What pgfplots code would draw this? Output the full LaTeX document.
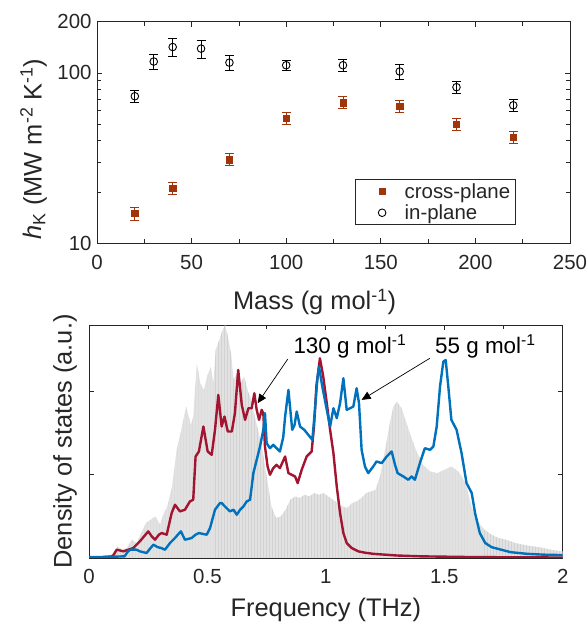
\documentclass[border=0pt]{standalone}
\usepackage{fontspec}
\setmainfont{Liberation Sans}
\usepackage{pgfplots}
\pgfplotsset{compat=1.18}
\usetikzlibrary{arrows.meta,patterns}
\definecolor{axgray}{RGB}{38,38,38}
\definecolor{brn}{RGB}{162,52,12}
\definecolor{dred}{RGB}{162,20,47}
\definecolor{mblue}{RGB}{0,114,189}
\definecolor{dosgray}{RGB}{226,226,226}
\definecolor{dosstripe}{RGB}{210,210,210}
\newcommand{\tickfont}{\fontsize{20.5}{24}\selectfont}
\newcommand{\labfont}{\fontsize{25.5}{30}\selectfont}
\pgfplotsset{
  matlab/.style={
    scale only axis, anchor=south west,
    tick align=inside, major tick length=5bp, minor tick length=4bp,
    axis line style={axgray, line width=0.8bp},
    every tick/.style={axgray, line width=0.8bp},
    tick label style={font=\tickfont, text=axgray},
    /pgf/number format/assume math mode=true,
    xticklabel style={yshift=-8bp},
    yticklabel style={xshift=-2bp},
    label style={font=\labfont, text=axgray},
  }
}
\pgfplotstableread{
f v
0 0
0.05 0.005
0.08 0.02
0.10 0.05
0.12 0.14
0.14 0.10
0.16 0.12
0.18 0.22
0.20 0.18
0.22 0.30
0.24 0.42
0.26 0.46
0.28 0.50
0.30 0.40
0.31 0.50
0.33 0.62
0.35 0.85
0.37 1.30
0.39 1.55
0.41 1.82
0.43 1.60
0.44 1.70
0.455 2.34
0.47 2.10
0.485 2.02
0.50 2.20
0.515 2.30
0.525 2.10
0.535 2.50
0.55 2.62
0.565 2.75
0.575 2.80
0.585 2.68
0.60 2.46
0.61 2.14
0.625 2.22
0.64 2.10
0.655 2.18
0.67 2.02
0.685 1.90
0.70 1.70
0.715 1.52
0.73 1.34
0.75 0.98
0.77 0.62
0.79 0.48
0.81 0.50
0.83 0.58
0.85 0.70
0.87 0.74
0.89 0.72
0.91 0.76
0.93 0.74
0.95 0.78
0.97 0.76
0.99 0.78
1.01 0.74
1.03 0.70
1.05 0.66
1.07 0.62
1.09 0.60
1.11 0.66
1.13 0.68
1.15 0.72
1.17 0.78
1.19 0.80
1.21 0.82
1.23 1.00
1.25 1.30
1.27 1.62
1.285 1.82
1.30 1.88
1.32 1.80
1.35 1.54
1.38 1.30
1.41 1.12
1.44 1.04
1.47 1.02
1.50 1.06
1.53 1.10
1.56 1.04
1.59 0.90
1.615 0.62
1.64 0.44
1.67 0.34
1.70 0.28
1.73 0.24
1.76 0.22
1.80 0.18
1.85 0.15
1.90 0.13
1.95 0.10
2.00 0.08
}\dostable
\begin{document}
\begin{tikzpicture}
\path[use as bounding box] (0,0) rectangle (588bp,623bp);
\begin{axis}[matlab,
  at={(97bp,379.7bp)}, width=473bp, height=221.6bp,
  xmin=0, xmax=250, ymin=10, ymax=200, ymode=log,
  xtick={0,50,...,250}, xticklabels={0,50,100,150,200,250},
  minor xtick={25,75,...,225},
  ytick={10,100,200}, yticklabels={10,100,200},
  minor ytick={20,30,40,50,60,70,80,90},
  xlabel={Mass (g mol\textsuperscript{-1})},
  xlabel style={at={(axis description cs:0.46,0)}, anchor=base, yshift=-66.7bp},
  ylabel={\textit{h}\textsubscript{K} (MW m\textsuperscript{-2} K\textsuperscript{-1})},
  ylabel style={at={(axis description cs:-0.117,0.4255)}, anchor=base, rotate=0},
  legend style={at={(axis description cs:0.885,0.0812)}, anchor=south east,
    draw=axgray, line width=0.8bp, font=\tickfont, text=axgray,
    inner xsep=5bp, inner ysep=4bp, row sep=5bp, nodes={inner sep=0pt}},
  legend cell align=left,
  legend image code/.code={\path[draw=none] (-22bp,0bp) -- (22.5bp,0bp); \draw[#1] plot[only marks] coordinates {(0bp,0bp)};},
]
\addplot[only marks, mark=square*, mark size=3.2bp, color=brn, mark options={fill=brn},
  error bars/.cd, y dir=both, y explicit,
  error bar style={line width=0.9bp, brn},
  error mark options={rotate=90, mark size=4.5bp, line width=0.9bp, brn}]
  table[x=x, y=y, y error=e] {
x y e
20 15.0 1.3
40 21.0 1.7
70 31.0 2.5
100 54.4 4.4
130 67.0 5.5
160 63.7 5.2
190 49.9 4.0
220 42.1 3.3
};
\addlegendentry{cross-plane}
\addplot[only marks, mark=o, mark size=3.8bp, color=black, mark options={line width=0.9bp},
  error bars/.cd, y dir=both, y explicit,
  error bar style={line width=0.9bp, black},
  error mark options={rotate=90, mark size=4.5bp, line width=0.9bp, black}]
  table[x=x, y=y, y error=e] {
x y e
20 73.0 5.8
30 116.7 11.8
40 142.0 17.0
55 139.0 17.0
70 115.0 11.5
100 111.0 7.5
130 111.0 8.6
160 102.0 10.4
190 82.5 6.9
220 64.6 5.2
};
\addlegendentry{in-plane}
\end{axis}

\begin{axis}[matlab,
  at={(89bp,65bp)}, width=473.7bp, height=233bp,
  xmin=0, xmax=2, ymin=0, ymax=2.8,
  xtick={0,0.5,1,1.5,2}, xticklabels={0,0.5,1,1.5,2},
  minor xtick={0.25,0.75,1.25,1.75},
  ytick={0,1,2}, yticklabels={},
  xlabel={Frequency (THz)},
  xlabel style={at={(axis description cs:0.5,0)}, anchor=base, yshift=-58.5bp},
  ylabel={Density of states (a.u.)},
  ylabel style={at={(axis description cs:-0.0365,0.5)}, anchor=base, rotate=0},
]
\addplot[fill=dosgray, draw=none] table[x=f,y=v] {\dostable} \closedcycle;
\addplot[pattern=vertical lines, pattern color=dosstripe, draw=none] table[x=f,y=v] {\dostable} \closedcycle;
\addplot[dred, line width=2.4bp, line join=round] table {
0 0.005
0.05 0.008
0.10 0.02
0.117 0.10
0.145 0.08
0.166 0.10
0.187 0.12
0.215 0.20
0.25 0.32
0.265 0.26
0.279 0.22
0.295 0.28
0.307 0.30
0.328 0.28
0.349 0.54
0.363 0.64
0.384 0.56
0.405 0.58
0.426 0.68
0.44 0.70
0.45 1.22
0.464 1.28
0.483 1.58
0.501 1.28
0.518 1.24
0.532 1.54
0.546 1.96
0.56 1.58
0.572 1.70
0.586 1.52
0.603 1.52
0.616 1.74
0.63 2.26
0.645 1.84
0.659 1.66
0.673 1.80
0.687 1.80
0.698 1.98
0.708 1.78
0.718 1.66
0.729 1.78
0.736 1.74
0.743 1.34
0.754 1.10
0.764 1.00
0.778 1.08
0.792 1.12
0.806 1.08
0.828 1.22
0.842 1.02
0.856 1.00
0.87 0.98
0.881 0.90
0.898 1.06
0.919 1.22
0.94 1.28
0.95 1.58
0.96 2.06
0.975 2.40
0.989 2.18
1.004 1.86
1.018 1.54
1.032 1.26
1.046 0.86
1.06 0.54
1.074 0.30
1.088 0.18
1.109 0.12
1.137 0.08
1.165 0.064
1.20 0.05
1.30 0.03
1.40 0.02
1.60 0.012
1.80 0.008
2.00 0.006
};
\addplot[mblue, line width=2.4bp, line join=round] table {
0 0.01
0.05 0.012
0.10 0.015
0.15 0.02
0.165 0.08
0.175 0.10
0.20 0.10
0.215 0.08
0.243 0.06
0.26 0.12
0.272 0.16
0.29 0.13
0.305 0.12
0.321 0.10
0.342 0.18
0.363 0.24
0.375 0.28
0.388 0.32
0.405 0.22
0.42 0.23
0.433 0.24
0.45 0.28
0.464 0.30
0.48 0.29
0.497 0.28
0.511 0.36
0.532 0.58
0.553 0.66
0.56 0.66
0.574 0.62
0.595 0.56
0.61 0.58
0.624 0.52
0.638 0.58
0.652 0.62
0.666 0.68
0.68 0.70
0.694 1.02
0.708 1.18
0.722 1.34
0.736 1.54
0.743 1.74
0.75 1.38
0.764 1.32
0.778 1.36
0.792 1.32
0.806 1.28
0.82 1.45
0.828 1.70
0.842 2.02
0.858 1.54
0.868 1.60
0.877 1.76
0.891 1.58
0.909 1.54
0.926 1.48
0.943 1.42
0.954 1.78
0.964 2.15
0.971 2.30
0.985 2.06
1.004 1.78
1.018 1.58
1.032 1.80
1.046 1.68
1.06 1.86
1.074 2.16
1.088 1.78
1.102 1.80
1.116 1.82
1.130 2.04
1.14 1.86
1.151 1.30
1.165 1.10
1.179 1.02
1.20 1.10
1.214 1.16
1.236 1.14
1.257 1.22
1.278 1.28
1.292 1.12
1.303 1.02
1.327 0.98
1.348 0.94
1.362 0.98
1.376 0.94
1.397 1.14
1.418 1.32
1.44 1.30
1.454 1.34
1.468 1.58
1.482 2.06
1.496 2.36
1.506 2.38
1.517 2.06
1.53 1.66
1.552 1.54
1.573 1.26
1.594 0.90
1.616 0.78
1.63 0.54
1.65 0.30
1.673 0.18
1.70 0.13
1.74 0.10
1.78 0.07
1.85 0.05
1.92 0.04
2.00 0.035
};
\node[anchor=base west, inner sep=0pt, font=\fontsize{22.5}{27}\selectfont, text=black] at (axis cs:0.8626,2.46) {130 g mol\textsuperscript{-1}};
\node[anchor=base west, inner sep=0pt, font=\fontsize{22.5}{27}\selectfont, text=black] at (axis cs:1.461,2.46) {55 g mol\textsuperscript{-1}};
\draw[-{Triangle[length=9bp,width=8bp]}, line width=0.7bp] (axis cs:0.839,2.39) -- (axis cs:0.712,1.86);
\draw[-{Triangle[length=9bp,width=8bp]}, line width=0.7bp] (axis cs:1.439,2.40) -- (axis cs:1.151,1.90);
\end{axis}
\end{tikzpicture}
\end{document}
